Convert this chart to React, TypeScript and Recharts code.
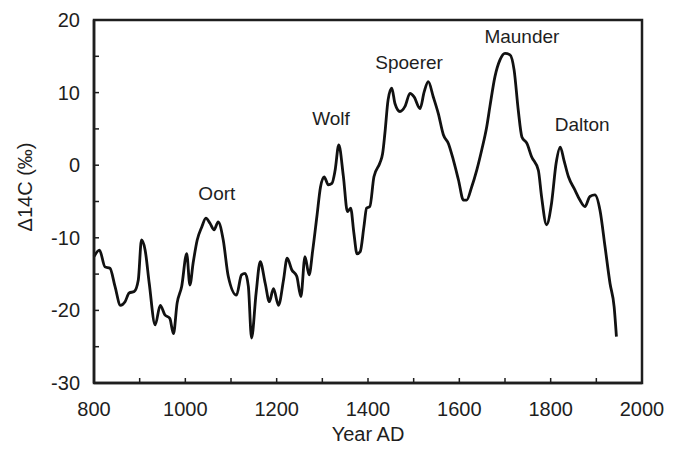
import { LineChart, Line, XAxis, YAxis, ReferenceArea, ReferenceDot } from 'recharts';

const years = [
  800, 812, 824, 835, 846, 858, 868, 877, 888, 897, 904, 912, 921, 934, 945, 955, 966, 974, 982, 992,
  1003, 1010, 1017, 1026, 1036, 1045, 1054, 1063, 1072, 1083, 1094, 1112, 1123, 1131, 1138, 1145, 1155, 1164, 1175, 1184,
  1193, 1204, 1215, 1223, 1233, 1244, 1253, 1262, 1271, 1279, 1288, 1296, 1304, 1313, 1321, 1328, 1336, 1346, 1355, 1362,
  1369, 1376, 1383, 1391, 1397, 1404, 1413, 1426, 1432, 1437, 1444, 1452, 1459, 1470, 1481, 1492, 1501, 1514, 1523, 1532,
  1543, 1554, 1565, 1576, 1587, 1598, 1609, 1616, 1627, 1638, 1649, 1660, 1667, 1678, 1689, 1700, 1711, 1720, 1729, 1737,
  1748, 1758, 1773, 1780, 1791, 1802, 1812, 1821, 1829, 1839, 1853, 1864, 1875, 1886, 1897, 1908, 1919, 1930, 1939, 1944,
];

const delta14c = [
  -12.6, -11.7, -14.0, -14.2, -16.7, -19.3, -18.8, -17.6, -17.4, -15.8, -10.3, -11.7, -16.3, -22.0, -19.3, -20.6, -21.1, -23.2, -19.0, -16.7,
  -12.2, -16.5, -13.5, -10.3, -8.5, -7.3, -8.0, -8.9, -7.8, -10.3, -15.3, -17.9, -15.1, -14.9, -16.7, -23.8, -17.6, -13.3, -16.3, -18.8,
  -17.0, -19.3, -15.8, -12.8, -14.4, -15.3, -18.1, -12.6, -15.1, -11.7, -7.1, -3.0, -1.6, -2.7, -2.5, -0.7, 2.8, -1.5, -6.4, -5.9,
  -9.3, -12.2, -11.9, -8.5, -5.9, -5.7, -1.6, 0.3, 1.6, 4.4, 9.0, 10.6, 8.5, 7.4, 8.1, 9.9, 9.4, 7.8, 10.1, 11.5,
  9.4, 7.1, 4.2, 3.0, 0.7, -2.0, -4.8, -4.8, -3.0, -0.7, 2.1, 5.3, 8.1, 12.2, 14.5, 15.4, 15.2, 13.1, 7.6, 3.9,
  3.0, 1.2, -0.7, -4.3, -8.2, -5.2, 0.3, 2.5, 0.7, -1.6, -3.4, -4.8, -5.7, -4.3, -4.1, -6.2, -11.2, -16.3, -19.5, -23.6,
];

const xTicks = [800, 900, 1000, 1100, 1200, 1300, 1400, 1500, 1600, 1700, 1800, 1900, 2000];
const yTicks = [-30, -25, -20, -15, -10, -5, 0, 5, 10, 15, 20];

// solar minima names, anchored in data units
const minimaNames = ['Oort', 'Wolf', 'Spoerer', 'Maunder', 'Dalton'];
const minimaYears = [1069, 1319, 1490, 1737, 1869];
const minimaValues = [-3.8, 6.5, 14.2, 17.8, 5.7];

const data = years.map((year, i) => ({ year, value: delta14c[i] }));

const font = '"Liberation Sans", Arial, sans-serif';
const ink = '#1e1e1e';

function YTick({ x, y, payload }: any) {
  const major = payload.value % 10 === 0;
  return (
    <g>
      <line x1={x} x2={x + 5} y1={y} y2={y} stroke={ink} strokeWidth={1.5} />
      {major && (
        <text x={x - 14} y={y} textAnchor="end" dominantBaseline="central" fontSize={20} fontFamily={font} fill={ink}>
          {payload.value}
        </text>
      )}
    </g>
  );
}

function XTick({ x, y, payload }: any) {
  const major = payload.value % 200 === 0;
  return (
    <g>
      <line x1={x} x2={x} y1={y} y2={y - 5} stroke={ink} strokeWidth={1.5} />
      {major && (
        <text x={x} y={y + 26} textAnchor="middle" dominantBaseline="central" fontSize={20} fontFamily={font} fill={ink}>
          {payload.value}
        </text>
      )}
    </g>
  );
}

function YLabel({ viewBox }: any) {
  const cx = viewBox.x - 9;
  const cy = viewBox.y + 167;
  return (
    <text
      x={cx}
      y={cy}
      transform={`rotate(-90, ${cx}, ${cy})`}
      textAnchor="middle"
      dominantBaseline="central"
      fontSize={20}
      fontFamily={font}
      fill={ink}
    >
      Δ14C (‰)
    </text>
  );
}

export default function App() {
  return (
    <LineChart width={657} height={436} data={data} margin={{ top: 12, right: 23, left: 26, bottom: 0 }}>
      <XAxis
        dataKey="year"
        type="number"
        domain={[800, 2000]}
        ticks={xTicks}
        interval={0}
        tickSize={0}
        tickMargin={0}
        tickLine={false}
        tick={<XTick />}
        axisLine={{ stroke: ink, strokeWidth: 2.5 }}
        height={61}
        label={{ value: 'Year AD', position: 'insideBottom', offset: 3, fontSize: 20, fontFamily: font, fill: ink }}
      />
      <YAxis
        type="number"
        domain={[-30, 20]}
        ticks={yTicks}
        interval={0}
        tickSize={0}
        tickMargin={0}
        tickLine={false}
        tick={<YTick />}
        axisLine={{ stroke: ink, strokeWidth: 2.5 }}
        width={60}
        label={{ content: <YLabel /> }}
      />
      <ReferenceArea x1={800} x2={2000} y1={-30} y2={20} fill="none" stroke={ink} strokeWidth={2.5} />
      <Line
        type="monotone"
        dataKey="value"
        stroke="#111"
        strokeWidth={2.8}
        dot={false}
        isAnimationActive={false}
      />
      {minimaNames.map((name, i) => (
        <ReferenceDot
          key={name}
          x={minimaYears[i]}
          y={minimaValues[i]}
          r={0}
          stroke="none"
          fill="none"
          label={{ value: name, position: 'center', fontSize: 19, fontFamily: font, fill: ink }}
        />
      ))}
    </LineChart>
  );
}
